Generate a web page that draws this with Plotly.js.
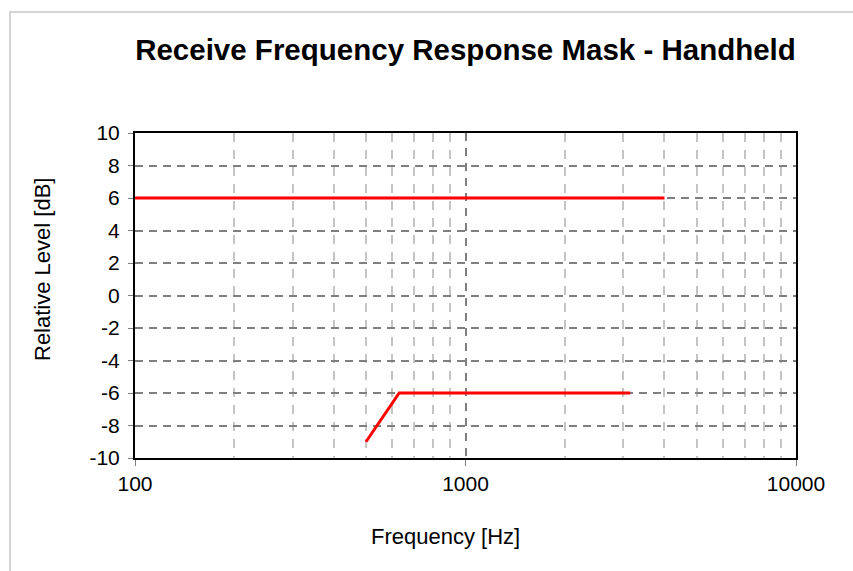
<!DOCTYPE html>
<html>
<head>
<meta charset="utf-8">
<script src="https://cdn.plot.ly/plotly-3.0.1.min.js"></script>
<style>
  html, body { margin: 0; padding: 0; background: #ffffff; }
  #wrap { position: relative; width: 853px; height: 571px; overflow: hidden; }
  #frame { position: absolute; left: 9px; top: 11px; width: 900px; height: 600px;
           border-left: 2px solid #d4d4d4; border-top: 2px solid #d4d4d4; }
  #chart { position: absolute; left: 0; top: 0; width: 853px; height: 571px; }
</style>
</head>
<body>
<div id="wrap">
  <div id="frame"></div>
  <div id="chart"></div>
</div>
<script>
// Data
const upperFreq = [100, 4000];
const upperLevel = [6, 6];
const lowerFreq = [500, 630, 3150];
const lowerLevel = [-9, -6, -6];

const xMajorTicks = [100, 1000, 10000];
const xMajorLabels = ['100', '1000', '10000'];
const xMinorTicks = [200, 300, 400, 500, 600, 700, 800, 900, 2000, 3000, 4000, 5000, 6000, 7000, 8000, 9000];
const yTicks = [-10, -8, -6, -4, -2, 0, 2, 4, 6, 8, 10];
const yLabels = ['-10', '-8', '-6', '-4', '-2', '0', '2', '4', '6', '8', '10'];

const font = 'Liberation Sans, Arial, sans-serif';

const traces = [
  { x: upperFreq, y: upperLevel, mode: 'lines', line: { color: '#ff0000', width: 3 }, hoverinfo: 'skip', showlegend: false },
  { x: lowerFreq, y: lowerLevel, mode: 'lines', line: { color: '#ff0000', width: 3 }, hoverinfo: 'skip', showlegend: false }
];

const layout = {
  width: 853, height: 571,
  margin: { l: 135, r: 57, t: 133, b: 113 },
  paper_bgcolor: 'rgba(0,0,0,0)',
  plot_bgcolor: '#ffffff',
  font: { family: font, color: '#000000', size: 21 },
  title: {
    text: '<b>Receive Frequency Response Mask - Handheld</b>',
    font: { family: font, size: 29.5, color: '#000000' },
    xref: 'paper', x: 0.5, xanchor: 'center',
    yref: 'container', y: 1 - 50 / 571, yanchor: 'middle'
  },
  xaxis: {
    type: 'log',
    range: [2, 4],
    tickmode: 'array', tickvals: xMajorTicks, ticktext: xMajorLabels,
    ticks: 'outside', ticklen: 6, tickcolor: '#808080', tickwidth: 1,
    tickfont: { family: font, size: 21, color: '#000000' },
    showgrid: true, gridcolor: '#7f7f7f', gridwidth: 2, griddash: '8px,7px',
    minor: { tickvals: xMinorTicks, showgrid: true, gridcolor: '#c4c4c4', gridwidth: 2, griddash: '9px,8px', ticks: '' },
    showline: true, linecolor: '#000000', linewidth: 2, mirror: true,
    zeroline: false
  },
  yaxis: {
    range: [-10, 10],
    tickmode: 'array', tickvals: yTicks, ticktext: yLabels,
    ticks: 'outside', ticklen: 5, tickcolor: '#808080', tickwidth: 1,
    ticklabelstandoff: 4,
    tickfont: { family: font, size: 21, color: '#000000' },
    showgrid: true, gridcolor: '#7f7f7f', gridwidth: 2, griddash: '8px,6px',
    showline: true, linecolor: '#000000', linewidth: 2, mirror: true,
    zeroline: false
  },
  annotations: [
    { text: 'Frequency [Hz]', xref: 'paper', yref: 'paper',
      x: (445.5 - 135) / 661, y: (458 - 536) / 325, xanchor: 'center', yanchor: 'middle',
      showarrow: false, font: { family: font, size: 22, color: '#000000' } },
    { text: 'Relative Level [dB]', xref: 'paper', yref: 'paper', textangle: -90,
      x: (42 - 135) / 661, y: (458 - 270) / 325, xanchor: 'center', yanchor: 'middle',
      showarrow: false, font: { family: font, size: 22, color: '#000000' } }
  ]
};

Plotly.newPlot('chart', traces, layout, { displayModeBar: false, staticPlot: true });
</script>
</body>
</html>
